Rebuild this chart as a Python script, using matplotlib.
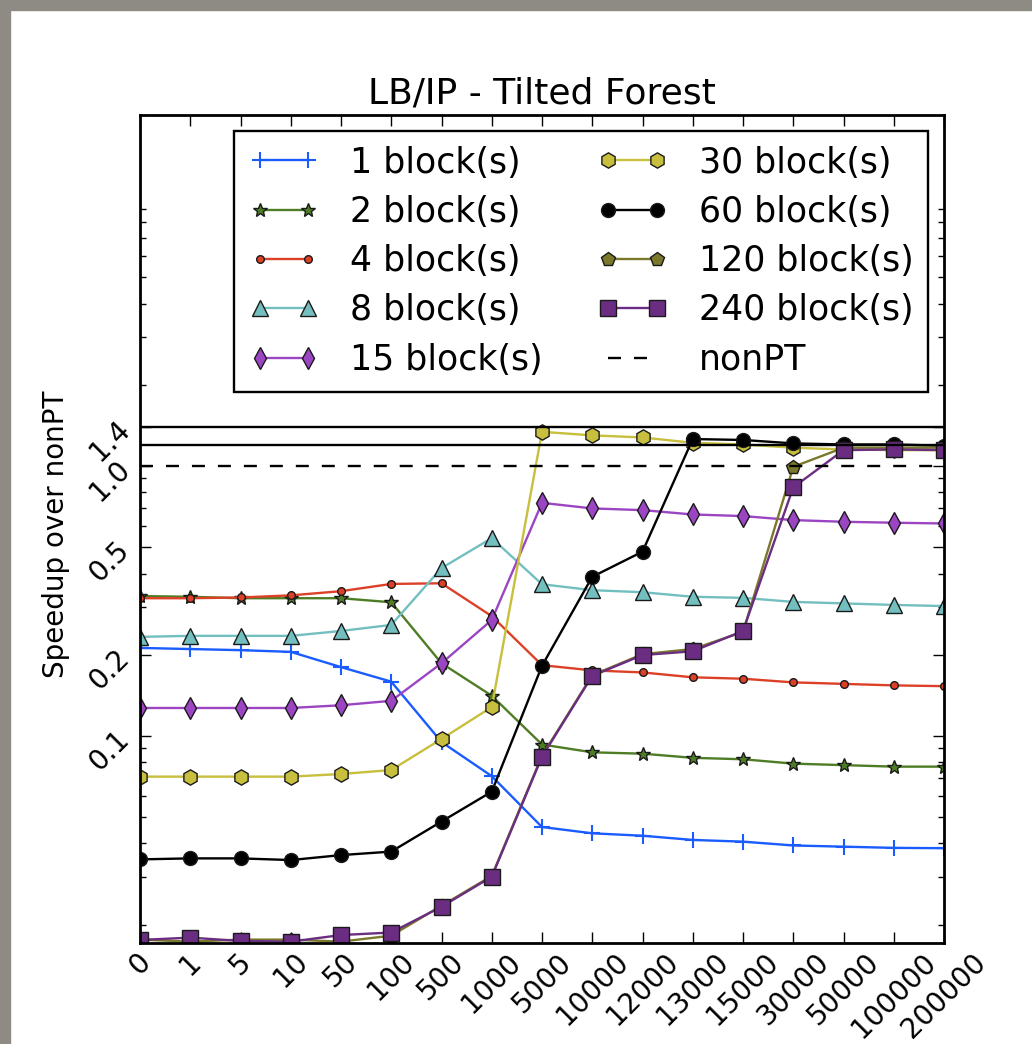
import numpy as np
import matplotlib
matplotlib.use("Agg")
import matplotlib.pyplot as plt
from matplotlib.ticker import FixedLocator, NullFormatter, LogLocator
from matplotlib.patches import Rectangle

# x categories
sizes = ['0', '1', '5', '10', '50', '100', '500', '1000', '5000', '10000',
         '12000', '13000', '15000', '30000', '50000', '100000', '200000']

# speedup over nonPT per number of blocks
b1 = [0.212, 0.210, 0.208, 0.205, 0.180, 0.159, 0.095, 0.071, 0.046, 0.0436,
      0.0427, 0.0412, 0.0406, 0.0393, 0.0389, 0.0385, 0.0384]
b2 = [0.330, 0.328, 0.324, 0.324, 0.324, 0.313, 0.186, 0.141, 0.093, 0.087,
      0.086, 0.083, 0.082, 0.079, 0.078, 0.077, 0.077]
b4 = [0.324, 0.324, 0.326, 0.332, 0.344, 0.366, 0.368, 0.278, 0.183, 0.175,
      0.172, 0.165, 0.163, 0.158, 0.156, 0.154, 0.153]
b8 = [0.233, 0.235, 0.235, 0.235, 0.245, 0.258, 0.419, 0.541, 0.365, 0.347,
      0.341, 0.328, 0.325, 0.314, 0.310, 0.306, 0.303]
b15 = [0.127, 0.127, 0.127, 0.127, 0.130, 0.135, 0.186, 0.269, 0.731, 0.697,
       0.687, 0.662, 0.653, 0.631, 0.622, 0.617, 0.613]
b30 = [0.0707, 0.0707, 0.0707, 0.0707, 0.0723, 0.0748, 0.0975, 0.128, 1.34, 1.30,
       1.277, 1.22, 1.203, 1.17, 1.153, 1.146, 1.146]
b60 = [0.0349, 0.0352, 0.0352, 0.0347, 0.0362, 0.0373, 0.0482, 0.0622, 0.182, 0.389,
       0.482, 1.26, 1.25, 1.214, 1.203, 1.203, 1.19]
b120 = [0.0176, 0.0173, 0.0176, 0.0176, 0.0173, 0.0182, 0.0235, 0.0303, 0.0845, 0.168,
        0.201, 0.210, 0.243, 0.994, 1.17, 1.17, 1.17]
b240 = [0.01755, 0.0179, 0.0174, 0.0173, 0.0183, 0.0187, 0.0233, 0.0301, 0.0838, 0.167,
        0.1995, 0.206, 0.245, 0.834, 1.146, 1.153, 1.146]

series = [
    ('1 block(s)', b1, '#1a5cff', '+', 12),
    ('2 block(s)', b2, '#4e7d25', '*', 10),
    ('4 block(s)', b4, '#dc4128', '.', 11),
    ('8 block(s)', b8, '#73bfbf', '^', 11),
    ('15 block(s)', b15, '#9b45c3', 'd', 11),
    ('30 block(s)', b30, '#c7bf3d', 'h', 11),
    ('60 block(s)', b60, '#000000', 'o', 10),
    ('120 block(s)', b120, '#7a782a', 'p', 10),
    ('240 block(s)', b240, '#6b2d82', 's', 11),
]

fig = plt.figure(figsize=(10.32, 10.44), dpi=100)
ax = fig.add_axes([140/1032, 1-943/1044, 804/1032, 828/1044])

x = np.arange(len(sizes))
for label, vals, c, m, ms in series:
    ax.plot(x, vals, color=c, marker=m, markersize=ms, markerfacecolor=c,
            markeredgecolor='#1a1a1a' if m != '+' else c, markeredgewidth=1 if m != '+' else 1.5,
            lw=1.7, label=label)

ax.axhline(1.0, color='k', ls='--', lw=1.7, dashes=(5.5, 5.5), label='nonPT')
ax.axhline(1.4, color='k', lw=1.7)
ax.axhline(1.2, color='k', lw=1.7)

ax.set_yscale('log')
ax.set_ylim(0.0171, 20)
ax.set_xlim(0, 16)
ax.yaxis.set_major_locator(FixedLocator([0.1, 0.2, 0.5, 1.0, 1.4]))
ax.set_yticklabels(['0.1', '0.2', '0.5', '1.0', '1.4'], rotation=45, fontsize=20)
ax.yaxis.set_minor_locator(LogLocator(subs=np.arange(2, 10)))
ax.yaxis.set_minor_formatter(NullFormatter())
ax.set_xticks(x)
ax.set_xticklabels(sizes, rotation=45, fontsize=20)

ax.tick_params(which='both', direction='in', top=True, right=True, width=1)
ax.tick_params(which='major', length=8)
ax.tick_params(which='minor', length=4)
for s in ax.spines.values():
    s.set_linewidth(2)

ax.set_ylabel('Speedup over nonPT', fontsize=20)
ax.yaxis.set_label_coords(-0.087, 0.493)
ax.set_title('LB/IP - Tilted Forest', fontsize=26, pad=8)

leg = ax.legend(loc='upper right', ncol=2, numpoints=2, fontsize=25,
                fancybox=False, framealpha=1, borderaxespad=0.45, handlelength=2.0,
                handletextpad=0.9, columnspacing=1.6, labelspacing=0.44, borderpad=0.43)
leg.get_frame().set_edgecolor('k')
leg.get_frame().set_linewidth(1.7)

# grey window frame of the screenshot
fig.patches.append(Rectangle((0, 1-10/1044), 1, 10/1044, transform=fig.transFigure,
                             color='#8e8b84', zorder=-1))
fig.patches.append(Rectangle((0, 0), 10/1032, 1, transform=fig.transFigure,
                             color='#8e8b84', zorder=-1))

fig.savefig('out.png', dpi=100)
